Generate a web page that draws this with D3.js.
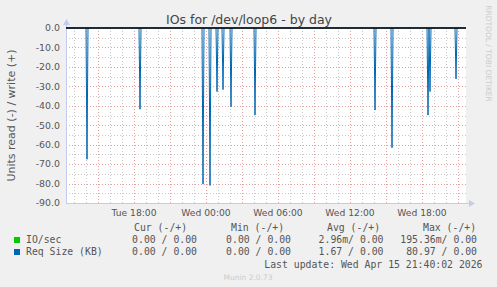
<!DOCTYPE html>
<html lang="en">
<head>
  <meta charset="utf-8" />
  <title>IOs for /dev/loop6 - by day</title>
  <style>
    body { margin: 0; padding: 0; background: #f0f0f0; }
    svg { display: block; font-family: "DejaVu Sans", sans-serif; }
    .mono { font-family: "DejaVu Sans Mono", monospace; font-size: 9.8px; fill: #555; }
  </style>
  <script src="https://d3js.org/d3.v7.min.js"></script>
</head>
<body>
  <svg width="497" height="287"></svg>
  <script>
    // Read-side request size spikes (negative = read), everything else sits at 0
    const spikeTimes = [
      "2026-04-14 14:05", "2026-04-14 18:30", "2026-04-14 23:45", "2026-04-15 00:20",
      "2026-04-15 00:55", "2026-04-15 01:25", "2026-04-15 02:05", "2026-04-15 04:05",
      "2026-04-15 14:05", "2026-04-15 15:30", "2026-04-15 18:30", "2026-04-15 18:40",
      "2026-04-15 20:50"
    ];
    const readValues = [-67.5, -41.8, -80.3, -80.97, -32.7, -31.7, -40.5, -44.7, -42.2, -61.6, -44.8, -32.7, -26.2];
    const timeRange = ["2026-04-14 12:20", "2026-04-15 21:40"];
    const yTicks = [0, -10, -20, -30, -40, -50, -60, -70, -80, -90];

    const legendHeaders = ["Cur (-/+)", "Min (-/+)", "Avg (-/+)", "Max (-/+)"];
    const legendRows = [
      { name: "IO/sec", color: "#00cc00", vals: ["0.00 / 0.00", "0.00 / 0.00", "2.96m/ 0.00", "195.36m/ 0.00"] },
      { name: "Req Size (KB)", color: "#0066b3", vals: ["0.00 / 0.00", "0.00 / 0.00", "1.67 / 0.00", "80.97 / 0.00"] }
    ];

    const parse = d3.timeParse("%Y-%m-%d %H:%M");
    const svg = d3.select("svg");
    const W = 497, H = 287;
    const m = { left: 66, right: 466, top: 28, bottom: 203 };

    const x = d3.scaleTime().domain(timeRange.map(parse)).range([m.left, m.right]);
    const y = d3.scaleLinear().domain([-90, 0]).range([m.bottom, m.top]);

    svg.append("rect").attr("width", W).attr("height", H).attr("fill", "#f0f0f0");
    svg.append("rect").attr("x", m.left).attr("y", m.top)
      .attr("width", m.right - m.left).attr("height", m.bottom - m.top).attr("fill", "#fff");

    // grid
    const grid = svg.append("g").attr("stroke-width", 1).attr("stroke-dasharray", "1,2");
    const minorY = d3.range(-85, 0, 10);
    grid.selectAll(".hmin").data(minorY).join("line")
      .attr("x1", m.left).attr("x2", m.right + 2)
      .attr("y1", d => Math.round(y(d)) + 0.5).attr("y2", d => Math.round(y(d)) + 0.5)
      .attr("stroke", "#c8c8c8");
    grid.selectAll(".hmaj").data(yTicks.filter(d => d !== 0)).join("line")
      .attr("x1", m.left).attr("x2", m.right + 2)
      .attr("y1", d => Math.round(y(d)) + 0.5).attr("y2", d => Math.round(y(d)) + 0.5)
      .attr("stroke", "#e6a0a0");
    const hours = x.ticks(d3.timeHour.every(1));
    grid.selectAll(".vmin").data(hours.filter(d => d.getHours() % 3 !== 0)).join("line")
      .attr("x1", d => Math.round(x(d)) + 0.5).attr("x2", d => Math.round(x(d)) + 0.5)
      .attr("y1", m.top).attr("y2", m.bottom)
      .attr("stroke", "#c8c8c8");
    grid.selectAll(".vmaj").data(hours.filter(d => d.getHours() % 3 === 0)).join("line")
      .attr("x1", d => Math.round(x(d)) + 0.5).attr("x2", d => Math.round(x(d)) + 0.5)
      .attr("y1", m.top).attr("y2", m.bottom + 2)
      .attr("stroke", "#e6a0a0");

    // axes lines with arrows
    const axisCol = "#c4cbf0";
    svg.append("line").attr("x1", m.left + 0.5).attr("x2", m.left + 0.5)
      .attr("y1", m.bottom).attr("y2", m.top - 4).attr("stroke", axisCol);
    svg.append("line").attr("x1", m.left).attr("x2", m.right + 4)
      .attr("y1", m.bottom + 0.5).attr("y2", m.bottom + 0.5).attr("stroke", axisCol);
    svg.append("path").attr("fill", axisCol)
      .attr("d", `M${m.left - 3},${m.top - 3}L${m.left + 4},${m.top - 3}L${m.left + 0.5},${m.top - 9}Z`);
    svg.append("path").attr("fill", axisCol)
      .attr("d", `M${m.right + 3},${m.bottom - 3}L${m.right + 3},${m.bottom + 4}L${m.right + 9},${m.bottom + 0.5}Z`);

    // y tick labels
    svg.append("g").selectAll("text").data(yTicks).join("text")
      .attr("x", 60).attr("y", d => y(d)).attr("dy", "0.35em")
      .attr("text-anchor", "end").attr("font-size", 9.4).attr("fill", "#555")
      .text(d => d.toFixed(1));

    // x tick labels
    svg.append("g").selectAll("text").data(x.ticks(d3.timeHour.every(6))).join("text")
      .attr("x", d => x(d)).attr("y", 216)
      .attr("text-anchor", "middle").attr("font-size", 9.2).attr("fill", "#555")
      .text(d => d3.timeFormat("%a %H:%M")(d));

    // series: zero line + read spikes
    const zeroLine = [x.domain()[0], x.domain()[1]];
    svg.append("path").datum(zeroLine)
      .attr("fill", "none").attr("stroke", "#0066b3").attr("stroke-width", 1)
      .attr("d", d3.line().x(d => x(d)).y(y(0)));

    const five = 5 * 60 * 1000;
    const spikes = spikeTimes.map((t, i) => ({ t: parse(t), v: readValues[i] }));
    svg.append("g").selectAll("path").data(spikes).join("path")
      .attr("fill", "none").attr("stroke", "#0066b3").attr("stroke-width", 1)
      .attr("d", d => d3.line().x(p => x(p[0])).y(p => y(p[1]))([
        [new Date(+d.t - five), 0], [d.t, d.v], [new Date(+d.t + five), 0]
      ]));

    // HRULE at 0
    svg.append("line").attr("x1", m.left).attr("x2", m.right)
      .attr("y1", y(0)).attr("y2", y(0)).attr("stroke", "#000").attr("stroke-width", 1.3);

    // title and labels
    svg.append("text").attr("x", 249).attr("y", 24).attr("text-anchor", "middle")
      .attr("font-size", 12.5).attr("fill", "#444").text("IOs for /dev/loop6 - by day");
    svg.append("text").attr("transform", "translate(15,115.5) rotate(-90)")
      .attr("text-anchor", "middle").attr("font-size", 11).attr("fill", "#555")
      .text("Units read (-) / write (+)");
    svg.append("text").attr("transform", "translate(486,53.5) rotate(90)")
      .attr("text-anchor", "middle").attr("font-size", 7.5).attr("fill", "#ccc")
      .text("RRDTOOL / TOBI OETIKER");

    // legend
    const colStart = [134, 231, 327, 423];
    const colEnd = [197, 291, 383.5, 477];
    const lg = svg.append("g");
    lg.selectAll(".hdr").data(legendHeaders).join("text").attr("class", "mono")
      .attr("x", (d, i) => colStart[i]).attr("y", 230.5).text(d => d);
    legendRows.forEach((r, ri) => {
      const yy = 243 + ri * 12;
      lg.append("rect").attr("x", 14).attr("y", yy - 6).attr("width", 6).attr("height", 6).attr("fill", r.color);
      lg.append("text").attr("class", "mono").attr("x", 26).attr("y", yy).attr("xml:space", "preserve").text(r.name);
      lg.selectAll(".v" + ri).data(r.vals).join("text").attr("class", "mono")
        .attr("x", (d, i) => colEnd[i]).attr("y", yy).attr("text-anchor", "end")
        .attr("xml:space", "preserve").text(d => d);
    });
    lg.append("text").attr("class", "mono").attr("x", 482.5).attr("y", 267.5)
      .attr("text-anchor", "end").text("Last update: Wed Apr 15 21:40:02 2026");
    svg.append("text").attr("x", 248).attr("y", 280).attr("text-anchor", "middle")
      .attr("font-size", 7.5).attr("fill", "#ccc").text("Munin 2.0.73");
  </script>
</body>
</html>
